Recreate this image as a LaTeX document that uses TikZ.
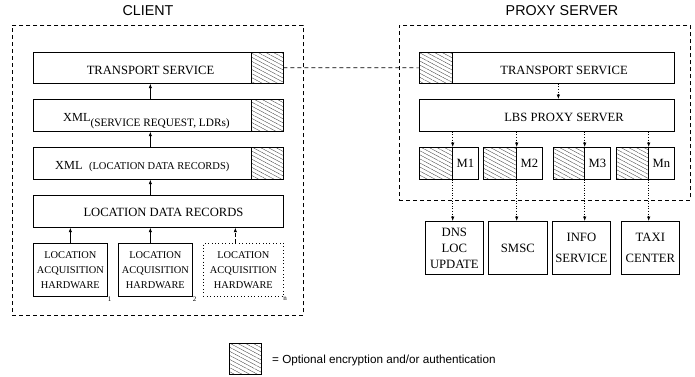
\documentclass[tikz,border=0pt]{standalone}
\usepackage{fontspec}
\setmainfont{Liberation Serif}
\newfontfamily\hv{Liberation Sans}
\usetikzlibrary{patterns.meta,arrows.meta}
\begin{document}
\begin{tikzpicture}[x=1pt,y=-1pt,
  box/.style={draw,line width=0.7pt,inner sep=0pt,anchor=north west},
  hatchbox/.style={box,pattern={Lines[angle=-28,distance=3.6pt,line width=0.35pt]},pattern color=black!75},
  dbox/.style={draw,line width=0.7pt,dash pattern=on 4pt off 3pt,inner sep=0pt,anchor=north west},
  big/.style={font=\fontsize{12.6}{15}\selectfont},
  hwfont/.style={font=\fontsize{10.4}{15.2}\selectfont,align=center},
  svfont/.style={font=\fontsize{12.7}{16}\selectfont,align=center},
  title/.style={font=\hv\fontsize{14.3}{16}\selectfont,anchor=base,inner sep=0pt},
  txt/.style={big,anchor=base,inner sep=0pt},
  idx/.style={font=\fontsize{7}{8}\selectfont,inner sep=0pt},
  arr/.style={line width=0.7pt,-{Latex[length=4.5pt,width=3.5pt]}},
  dotarr/.style={arr,dash pattern=on 1pt off 1.6pt},
  dasharr/.style={arr,dash pattern=on 4pt off 2.5pt}]
\useasboundingbox (0,0) rectangle (695,376);

% ---------- CLIENT ----------
\node[title] (ctitle) at (148,15) {CLIENT};
\node[dbox,minimum width=291pt,minimum height=290pt] (client) at (12,25) {};

\node[box,minimum width=218pt,minimum height=31pt] (ts) at (33,52) {};
\node[hatchbox,minimum width=32pt,minimum height=31pt] (tsh) at (251,52) {};
\node[txt] (tst) at (150.5,74) {TRANSPORT SERVICE};

\node[box,minimum width=218pt,minimum height=32pt] (xs) at (33,99) {};
\node[hatchbox,minimum width=32pt,minimum height=32pt] (xsh) at (251,99) {};
\node[anchor=base west,inner sep=0pt] (xst) at (63,121)
  {\fontsize{12.3}{14}\selectfont XML\raisebox{-5pt}{\fontsize{11.3}{13}\selectfont (SERVICE REQUEST, LDRs)}};

\node[box,minimum width=218pt,minimum height=32pt] (xl) at (33,147) {};
\node[hatchbox,minimum width=32pt,minimum height=32pt] (xlh) at (251,147) {};
\node[anchor=base west,inner sep=0pt] (xlt) at (55,169)
  {\fontsize{12.3}{14}\selectfont XML\hspace{6.5pt}\fontsize{10.5}{13}\selectfont (LOCATION DATA RECORDS)};

\node[box,minimum width=250pt,minimum height=32pt] (ldr) at (33,195) {};
\node[txt] (ldrt) at (163.5,216) {LOCATION DATA RECORDS};

\node[box,hwfont,minimum width=74pt,minimum height=53pt] (hw1) at (33,243) {LOCATION\\ACQUISITION\\HARDWARE};
\node[box,hwfont,minimum width=74pt,minimum height=53pt] (hw2) at (118,243) {LOCATION\\ACQUISITION\\HARDWARE};
\node[box,hwfont,dash pattern=on 0.8pt off 2.6pt,minimum width=80pt,minimum height=53pt] (hw3) at (203,243) {LOCATION\\ACQUISITION\\HARDWARE};
\node[idx] (i1) at (109.5,299) {1};
\node[idx] (i2) at (194.5,299) {2};
\node[idx] (i3) at (285,299) {n};

\draw[arr] ([xshift=8pt]xs.north) -- ([xshift=8pt]ts.south);
\draw[arr] ([xshift=8pt]xl.north) -- ([xshift=8pt]xs.south);
\draw[arr] ([xshift=-8pt]ldr.north) -- ([xshift=8pt]xl.south);
\draw[arr] (hw1.north) -- (hw1.north |- ldr.south);
\draw[arr] ([xshift=-5pt]hw2.north) -- ([xshift=-5pt]hw2.north |- ldr.south);
\draw[dasharr] ([xshift=-8pt]hw3.north) -- ([xshift=-8pt]hw3.north |- ldr.south);

% ---------- PROXY SERVER ----------
\node[title] (ptitle) at (562,15) {PROXY SERVER};
\node[dbox,minimum width=291pt,minimum height=175pt] (proxy) at (399,25) {};

\node[hatchbox,minimum width=33pt,minimum height=31pt] (ptsh) at (419,52) {};
\node[box,minimum width=222pt,minimum height=31pt] (pts) at (452,52) {};
\node[txt] (ptst) at (564,74) {TRANSPORT SERVICE};

\node[box,minimum width=255pt,minimum height=32pt] (lbs) at (419,99) {};
\node[txt] (lbst) at (564,121.5) {LBS PROXY SERVER};

\node[hatchbox,minimum width=33pt,minimum height=32pt] (m1h) at (419,147) {};
\node[box,big,minimum width=26pt,minimum height=32pt] (m1) at (452,147) {M1};
\node[hatchbox,minimum width=33pt,minimum height=32pt] (m2h) at (483,147) {};
\node[box,big,minimum width=26pt,minimum height=32pt] (m2) at (516,147) {M2};
\node[hatchbox,minimum width=31pt,minimum height=32pt] (m3h) at (553,147) {};
\node[box,big,minimum width=26pt,minimum height=32pt] (m3) at (584,147) {M3};
\node[hatchbox,minimum width=32pt,minimum height=32pt] (mnh) at (616,147) {};
\node[box,big,minimum width=26pt,minimum height=32pt] (mn) at (648,147) {Mn};

\node[box,svfont,minimum width=58pt,minimum height=53pt] (dns) at (425,221) {DNS\\LOC\\UPDATE};
\node[box,svfont,minimum width=59pt,minimum height=53pt] (smsc) at (488,221) {SMSC};
\node[box,svfont,minimum width=58pt,minimum height=53pt] (info) at (552,221) {INFO\\[4.7pt]SERVICE};
\node[box,svfont,minimum width=58pt,minimum height=53pt] (taxi) at (621,221) {TAXI\\[4.7pt]CENTER};

\draw[dotarr] ([xshift=-5pt]pts.south) -- ([xshift=-5pt]pts.south |- lbs.north);
\foreach \m/\s in {m1h/dns,m2h/smsc,m3h/info,mnh/taxi}{
  \draw[dotarr] (\m.north east |- lbs.south) -- (\m.north east);
  \draw[dotarr] (\m.south east) -- (\m.south east |- \s.north);
}

% connection between transport services
\draw[line width=0.7pt,dash pattern=on 4pt off 3pt] (tsh.east) -- (ptsh.west);

% ---------- legend ----------
\node[hatchbox,minimum width=32pt,minimum height=31pt] (leg) at (229,343) {};
\node[anchor=base west,inner sep=0pt,font=\hv\fontsize{11.7}{14}\selectfont] (legt) at (272,363) {= Optional encryption and/or authentication};
\end{tikzpicture}
\end{document}
